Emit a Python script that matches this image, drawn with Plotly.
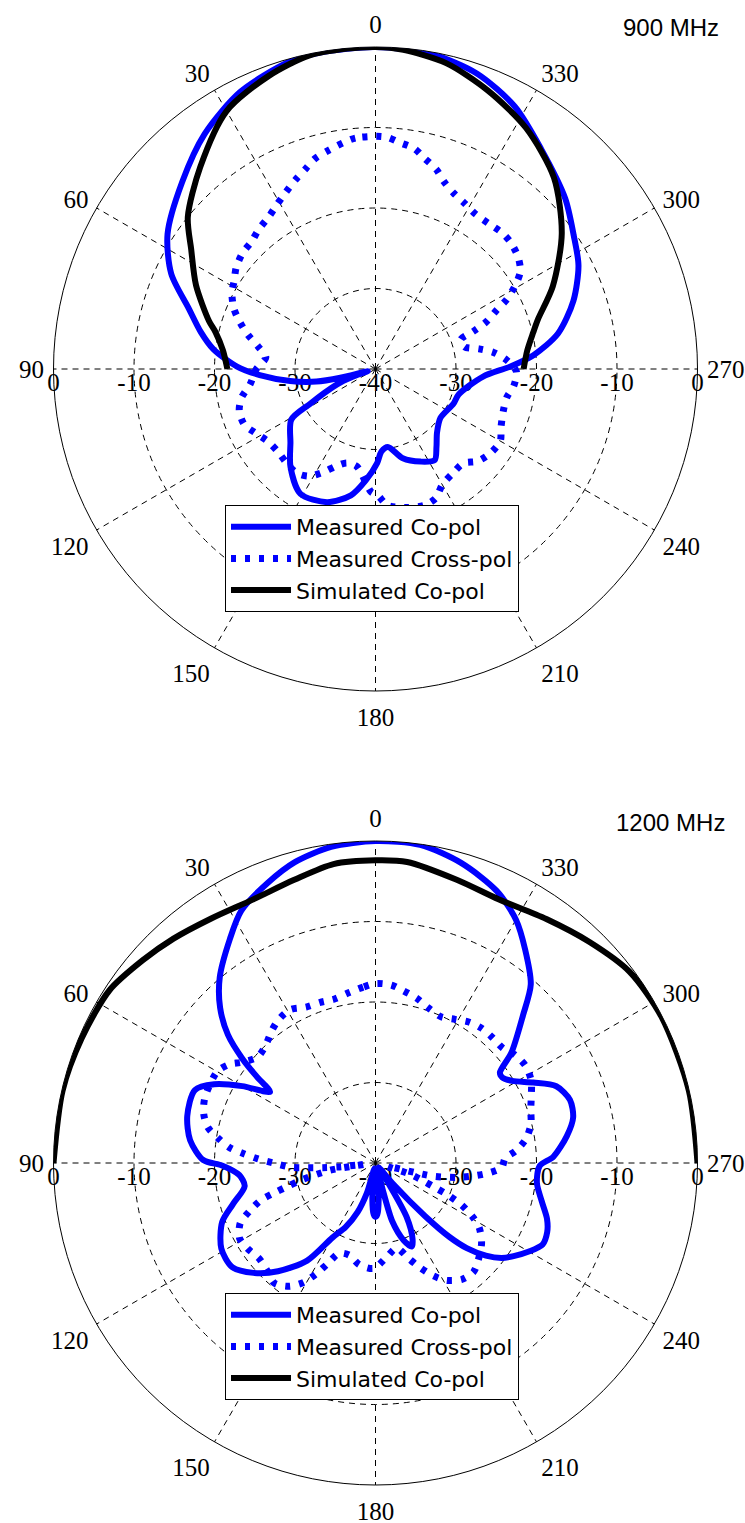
import plotly.graph_objects as go

# ---------------- data: 900 MHz ----------------
theta_900_meas_co = [0, 10, 16, 26, 36, 46, 57, 65, 72, 78, 83, 89, 93, 98, 102, 104, 106, 109, 112, 118,
                     121, 131, 139, 149, 160, 169, 175, 181, 184, 189, 197, 206, 213, 218, 224, 233, 246,
                     253, 266, 271, 275, 281, 289, 297, 304, 312, 323, 332, 341, 350, 360]
r_900_meas_co = [0, -0.1, -0.4, -1.7, -3.9, -6.6, -9.2, -12.0, -15.6, -17.8, -19.7, -22.8, -25.6, -29.3, -32.5,
                 -35.5, -39.0, -37.0, -34.8, -30.8, -27.8, -26.0, -23.9, -21.9, -22.4, -24.0, -26.1, -28.3,
                 -29.7, -30.2, -28.4, -27.2, -26.5, -27.7, -29.0, -29.9, -29.4, -29.2, -26.6, -23.3, -20.3,
                 -16.9, -14.0, -11.7, -10.3, -8.3, -5.8, -3.1, -1.2, -0.25, 0]

theta_900_meas_x = [0, 5, 8, 12, 16, 19, 23, 27, 31, 35, 40, 44, 49, 54, 58, 62, 67, 71, 75, 79, 84, 90, 97,
                    102, 107, 113, 118, 124, 131, 137, 143, 148, 153, 158, 163, 169, 174, 178, 181, 185, 192,
                    200, 205, 210, 217, 223, 228, 234, 240, 245, 252, 258, 263, 269, 274, 278, 281, 284, 289,
                    291, 293, 296, 298, 301, 304, 308, 313, 317, 322, 327, 332, 336, 340, 343, 347, 350, 354,
                    357, 360]
r_900_meas_x = [-11.1, -11.2, -11.6, -12.2, -12.8, -13.6, -14.5, -15.4, -16.2, -16.9, -17.4, -17.9, -18.1,
                -18.6, -19.3, -19.8, -20.9, -22.2, -23.6, -25.1, -26.3, -25.2, -24.3, -23.0, -22.3, -22.3,
                -23.1, -23.9, -24.1, -23.9, -23.8, -24.3, -25.6, -27.0, -27.8, -27.7, -26.3, -24.7, -24.3,
                -23.0, -22.4, -22.0, -22.3, -23.4, -23.9, -24.0, -22.9, -22.3, -22.1, -22.8, -23.3, -23.3,
                -22.7, -22.5, -23.7, -25.2, -26.9, -28.6, -28.8, -27.0, -25.1, -23.2, -21.5, -19.7, -18.3,
                -17.5, -17.0, -16.9, -17.1, -17.1, -16.6, -16.1, -15.2, -14.1, -13.1, -12.2, -11.7, -11.2,
                -11.1]

theta_900_sim_co = [270, 277, 283, 287, 295, 306, 317, 328, 338, 347, 355, 0, 5, 12, 20, 30, 41, 51, 57, 65,
                    74, 77, 83, 90]
r_900_sim_co = [-21.6, -21.0, -19.9, -18.9, -15.7, -11.4, -7.5, -4.7, -2.7, -1.0, -0.2, 0, -0.05, -0.2,
                -1.25, -3.0, -6.8, -10.0, -12.7, -15.4, -18.5, -19.6, -20.9, -21.6]

# ---------------- data: 1200 MHz ----------------
theta_1200_meas_co = [0, 8, 15, 21, 28, 33, 40, 45, 49, 52, 54, 56, 60, 64, 68, 76, 83, 89, 91, 95, 100, 106,
                      111, 119, 126, 132, 138, 145, 150, 155, 160, 164, 168, 172, 175, 178, 180, 182, 185, 188,
                      192, 196, 200, 203.5, 206, 210, 213, 217, 220, 223, 225, 227, 230, 233, 236, 240, 244,
                      248, 252, 257, 263, 269, 272, 278, 283, 288, 293, 297, 301, 304, 306, 309, 315, 319, 325,
                      330, 336, 344, 352, 360]
r_1200_meas_co = [0, -0.35, -1.3, -2.7, -4.5, -6.8, -9.9, -12.7, -15.7, -19.1, -21.8, -24.2, -20.9, -17.7,
                  -15.8, -15.9, -16.8, -18.6, -21.0, -23.0, -23.5, -21.6, -19.6, -18.1, -18.0, -19.6, -21.9,
                  -25.2, -29.3, -31.2, -33.5, -36.1, -39.3, -38.5, -35.5, -33.6, -33.3, -33.6, -35.5, -38.5,
                  -39.3, -32.5, -29.8, -28.7, -29.5, -32.3, -37.5, -39.3, -36.5, -31.0, -27.0, -24.5, -22.1,
                  -20.4, -19.3, -18.0, -16.9, -17.0, -17.6, -18.8, -19.8, -19.6, -17.9, -16.0, -14.8, -14.6,
                  -15.6, -18.0, -20.2, -21.0, -20.9, -18.3, -14.1, -10.6, -7.6, -5.1, -3.0, -1.25, -0.1, 0]

theta_1200_meas_x = [0, 4, 9, 14, 19, 24, 29, 34, 38, 43, 48, 53, 56, 60, 69, 74, 78, 81, 84, 86, 88, 90, 93,
                     94, 95, 96, 97, 98, 99, 101, 103, 105, 106.5, 108, 111, 114, 119, 124, 129.5, 135, 140,
                     145, 149, 152, 154.5, 158, 164, 171, 179, 186, 194, 199, 203, 207, 211, 216.5, 222, 227,
                     233, 238, 241, 244, 246, 247.5, 249.5, 252, 254.5, 257, 260, 262.5, 265, 268, 272, 275,
                     279, 284, 289, 294, 298, 303, 308, 312, 317, 322, 326.5, 331, 336, 341.5, 346, 351, 355,
                     360]
r_1200_meas_x = [-17.7, -18.1, -18.6, -19.0, -18.9, -18.8, -18.2, -18.5, -19.1, -20.0, -20.3, -19.2, -18.1,
                 -17.3, -17.3, -17.8, -18.7, -20.2, -21.8, -23.6, -25.4, -27.3, -29.6, -31.5, -33.4, -35.3,
                 -38.5, -37.0, -34.3, -32.5, -30.5, -28.6, -26.8, -25.0, -23.2, -21.6, -20.7, -20.9, -21.3,
                 -21.0, -20.5, -21.3, -22.7, -24.5, -26.1, -27.9, -28.1, -27.2, -26.9, -28.1, -29.1, -27.5,
                 -25.9, -24.3, -23.0, -22.0, -21.8, -22.5, -23.5, -24.8, -26.2, -28.1, -30.0, -31.9, -33.7,
                 -35.5, -38.5, -32.8, -29.7, -27.7, -25.9, -24.3, -23.9, -22.5, -21.1, -20.1, -19.6, -18.8,
                 -18.1, -17.8, -18.1, -18.7, -18.7, -18.7, -19.0, -19.6, -20.1, -19.6, -18.9, -18.3, -17.8,
                 -17.7]

theta_1200_sim_co = [270, 283, 297, 307, 316, 325, 335, 344, 354, 0, 8, 16, 25, 34, 42, 49, 57, 67, 77, 90]
r_1200_sim_co = [0, -0.05, -0.1, -0.5, -1.8, -3.0, -3.85, -3.4, -2.4, -2.4, -2.5, -3.4, -3.9, -3.4, -2.5,
                 -1.65, -0.6, -0.35, -0.1, 0]

angular_ticks = [0, 30, 60, 90, 120, 150, 180, 210, 240, 270, 300, 330]
radial_ticks = [-40, -30, -20, -10, 0]
# radial scale labels read along the 90-270 diameter, left edge to right edge
diameter_ticks = [-4, -3, -2, -1, 0, 1, 2, 3, 4]
diameter_labels = ["0", "-10", "-20", "-30", "-40", "-30", "-20", "-10", "0"]
series_names = ["Measured Co-pol", "Measured Cross-pol", "Simulated Co-pol"]
panel_titles = ["900 MHz", "1200 MHz"]

# ---------------- figure ----------------
W, H = 745, 1523
BLUE = "#0000ff"
SERIF = "Liberation Serif, Times New Roman, serif"
SANS = "Liberation Sans, Arial, sans-serif"
LEGEND_FONT = "DejaVu Sans, Liberation Sans, Arial, sans-serif"

panels = [
    dict(co=(theta_900_meas_co, r_900_meas_co), x=(theta_900_meas_x, r_900_meas_x),
         sim=(theta_900_sim_co, r_900_sim_co), cy=369, legend_top=505, title=panel_titles[0],
         title_right=721, title_y=28),
    dict(co=(theta_1200_meas_co, r_1200_meas_co), x=(theta_1200_meas_x, r_1200_meas_x),
         sim=(theta_1200_sim_co, r_1200_sim_co), cy=1163, legend_top=1293, title=panel_titles[1],
         title_right=727, title_y=822),
]

CX, R = 375.5, 322
fig = go.Figure()
layout = dict(width=W, height=H, margin=dict(l=0, r=0, t=0, b=0, pad=0, autoexpand=False),
              paper_bgcolor="white", plot_bgcolor="rgba(0,0,0,0)", showlegend=True, annotations=[])

grid_dash = "6px,5px"

for i, p in enumerate(panels):
    main = "polar" if i == 0 else "polar2"
    leg = "legend" if i == 0 else "legend2"
    xa, ya = ("x", "y") if i == 0 else ("x2", "y2")
    xname, yname = ("xaxis", "yaxis") if i == 0 else ("xaxis2", "yaxis2")
    dom_x = [(CX - R) / W, (CX + R) / W]
    dom_y = [1 - (p["cy"] + R) / H, 1 - (p["cy"] - R) / H]
    yc = 1 - (p["cy"] - 5) / H

    # invisible carrier for the diameter scale axis
    fig.add_trace(go.Scatter(x=[], y=[], xaxis=xa, yaxis=ya, showlegend=False, hoverinfo="skip"))

    fig.add_trace(go.Scatterpolar(r=p["co"][1], theta=p["co"][0], mode="lines", name=series_names[0],
                                  line=dict(color=BLUE, width=6, shape="spline", smoothing=0.8),
                                  subplot=main, legend=leg, hoverinfo="skip"))
    fig.add_trace(go.Scatterpolar(r=p["x"][1], theta=p["x"][0], mode="lines", name=series_names[1],
                                  line=dict(color=BLUE, width=7, dash="5px,9px", shape="spline", smoothing=0.8),
                                  subplot=main, legend=leg, hoverinfo="skip"))
    fig.add_trace(go.Scatterpolar(r=p["sim"][1], theta=p["sim"][0], mode="lines", name=series_names[2],
                                  line=dict(color="black", width=6, shape="spline", smoothing=0.8),
                                  subplot=main, legend=leg, hoverinfo="skip"))

    layout[main] = dict(
        domain=dict(x=dom_x, y=dom_y), bgcolor="rgba(0,0,0,0)", hole=0,
        angularaxis=dict(rotation=90, direction="counterclockwise", tickmode="array",
                         tickvals=angular_ticks, ticktext=[str(a) for a in angular_ticks],
                         showline=True, linecolor="black", linewidth=1,
                         showgrid=True, gridcolor="black", gridwidth=0.8, griddash=grid_dash,
                         ticks="outside", ticklen=4, tickcolor="rgba(0,0,0,0)",
                         tickfont=dict(family=SERIF, size=25, color="black")),
        radialaxis=dict(range=[-40, 0], tickmode="array", tickvals=radial_ticks,
                        showticklabels=False, angle=0, showline=False, showgrid=True, gridcolor="black",
                        gridwidth=0.8, griddash=grid_dash, ticks=""),
    )
    layout[xname] = dict(domain=dom_x, range=[-4, 4], anchor=ya, tickmode="array", tickvals=diameter_ticks,
                         ticktext=diameter_labels, showgrid=False, zeroline=False, showline=False,
                         ticks="", fixedrange=True, automargin=False,
                         tickfont=dict(family=SERIF, size=25, color="black"))
    layout[yname] = dict(domain=[yc - 0.0005, yc], range=[0, 1], visible=False, anchor=xa,
                         fixedrange=True, automargin=False)
    layout[leg] = dict(x=225 / W, y=1 - p["legend_top"] / H, xanchor="left", yanchor="top",
                       bgcolor="white", bordercolor="black", borderwidth=1, itemwidth=60,
                       font=dict(family=LEGEND_FONT, size=22, color="black"), tracegroupgap=0)
    layout["annotations"].append(dict(text=p["title"], x=p["title_right"] / W, y=1 - p["title_y"] / H,
                                      xref="paper", yref="paper", xanchor="right", yanchor="middle",
                                      showarrow=False, font=dict(family=SANS, size=24, color="black")))

fig.update_layout(**layout)
fig.write_html("out.html")
